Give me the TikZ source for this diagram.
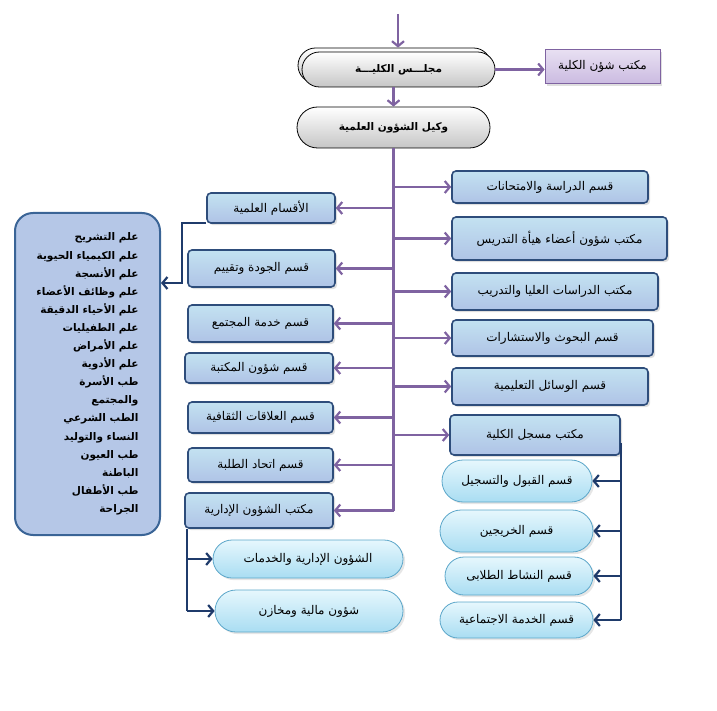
\documentclass[tikz,border=0pt]{standalone}
\usepackage{fontspec}
\newfontfamily\arabicfont[Script=Arabic]{DejaVu Sans}
\TeXXeTstate=1
\usetikzlibrary{arrows.meta,shapes.misc,shadows}
\definecolor{trunkpurple}{HTML}{7F63A1}
\definecolor{navyline}{HTML}{1F3B6B}
\definecolor{boxedge}{HTML}{2E4D7B}
\definecolor{boxtop}{HTML}{C3E2F1}
\definecolor{boxbot}{HTML}{AFC3E6}
\definecolor{pilledge}{HTML}{5BA6C9}
\definecolor{pilltop}{HTML}{E6F7FD}
\definecolor{pillbot}{HTML}{A9DDF2}
\definecolor{listedge}{HTML}{3A6496}
\definecolor{listfill}{HTML}{B5C7E7}
\definecolor{lilactop}{HTML}{E8E0F2}
\definecolor{lilacbot}{HTML}{CBBBE1}
\newcommand{\ar}[1]{{\arabicfont\beginR #1\endR}}
\tikzset{
  greypill/.style={rounded rectangle,draw,thick,top color=white,bottom color=gray!45,
    inner sep=0pt,font=\fontsize{10.5}{12}\selectfont\bfseries},
  lilacbox/.style={rectangle,draw=trunkpurple,thick,top color=lilactop,bottom color=lilacbot,
    inner sep=0pt,font=\fontsize{12}{14}\selectfont,drop shadow={opacity=0.25}},
  dept/.style={rectangle,rounded corners=4pt,draw=boxedge,line width=1.6pt,top color=boxtop,
    bottom color=boxbot,inner sep=0pt,font=\fontsize{12}{14}\selectfont,drop shadow={opacity=0.25}},
  unit/.style={rounded rectangle,draw=pilledge,thick,top color=pilltop,bottom color=pillbot,
    inner sep=0pt,font=\fontsize{12}{14}\selectfont,drop shadow={opacity=0.2}},
  listbox/.style={rectangle,rounded corners=18pt,draw=listedge,line width=2pt,fill=listfill,
    inner sep=0pt,align=right,font=\fontsize{10.5}{18.1}\selectfont\bfseries},
  plink/.style={draw=trunkpurple,line width=2.2pt},
  parrow/.style={plink,-{Straight Barb[length=5pt,width=12pt]}},
  narrow/.style={draw=navyline,line width=2.2pt,-{Straight Barb[length=5pt,width=12pt]}}
}
\begin{document}
\begin{tikzpicture}[x=1pt,y=-1pt]
  \useasboundingbox (0,0) rectangle (717,711);

  % — Council and vice dean
  \node [greypill,minimum width=193pt,minimum height=35pt] (councilback) at (394.5,65.5) {};
  \node [greypill,minimum width=193pt,minimum height=35pt] (council) at (398.5,69.5) {\ar{مجلـــس الكليـــة}};
  \node [lilacbox,minimum width=115pt,minimum height=34pt] (shuoon) at (602.5,66.5) {\ar{مكتب شؤن الكلية}};
  \node [greypill,minimum width=193pt,minimum height=41pt] (vakil) at (393.5,127.5) {\ar{وكيل الشؤون العلمية}};
  \coordinate (entry) at (398,14);

  % — Right-hand departments
  \node [dept,minimum width=196pt,minimum height=32pt] (exams)     at (550,187)   {\ar{قسم الدراسة والامتحانات}};
  \node [dept,minimum width=215pt,minimum height=43pt] (staff)     at (559.5,238.5) {\ar{مكتب شؤون أعضاء هيأة التدريس}};
  \node [dept,minimum width=206pt,minimum height=37pt] (postgrad)  at (555,291.5) {\ar{مكتب الدراسات العليا والتدريب}};
  \node [dept,minimum width=201pt,minimum height=36pt] (research)  at (552.5,338) {\ar{قسم البحوث والاستشارات}};
  \node [dept,minimum width=196pt,minimum height=37pt] (media)     at (550,386.5) {\ar{قسم الوسائل التعليمية}};
  \node [dept,minimum width=170pt,minimum height=40pt] (registrar) at (535,435)   {\ar{مكتب مسجل الكلية}};

  % — Left-hand departments
  \node [dept,minimum width=128pt,minimum height=30pt] (sci)     at (271,208)   {\ar{الأقسام العلمية}};
  \node [dept,minimum width=147pt,minimum height=37pt] (quality) at (261.5,268.5) {\ar{قسم الجودة وتقييم}};
  \node [dept,minimum width=145pt,minimum height=37pt] (service) at (260.5,323.5) {\ar{قسم خدمة المجتمع}};
  \node [dept,minimum width=148pt,minimum height=30pt] (library) at (259,368)   {\ar{قسم شؤون المكتبة}};
  \node [dept,minimum width=145pt,minimum height=31pt] (culture) at (260.5,417.5) {\ar{قسم العلاقات الثقافية}};
  \node [dept,minimum width=145pt,minimum height=34pt] (union)   at (260.5,465) {\ar{قسم اتحاد الطلبة}};
  \node [dept,minimum width=148pt,minimum height=35pt] (admin)   at (259,510.5) {\ar{مكتب الشؤون الإدارية}};

  % — Registrar units
  \node [unit,minimum width=150pt,minimum height=42pt] (admit)  at (517,481)   {\ar{قسم القبول والتسجيل}};
  \node [unit,minimum width=153pt,minimum height=42pt] (alumni) at (516.5,531) {\ar{قسم الخريجين}};
  \node [unit,minimum width=148pt,minimum height=38pt] (activ)  at (519,576)   {\ar{قسم النشاط الطلابى}};
  \node [unit,minimum width=153pt,minimum height=36pt] (social) at (516.5,620) {\ar{قسم الخدمة الاجتماعية}};

  % — Administration units
  \node [unit,minimum width=190pt,minimum height=38pt] (general) at (308,559) {\ar{الشؤون الإدارية والخدمات}};
  \node [unit,minimum width=188pt,minimum height=42pt] (stores)  at (309,611) {\ar{شؤون مالية ومخازن}};

  % — Scientific departments list
  \node [listbox,minimum width=145pt,minimum height=322pt] (list) at (87.5,374) {%
    \ar{علم التشريح}\\ \ar{علم الكيمياء الحيوية}\\ \ar{علم الأنسجة}\\
    \ar{علم وظائف الأعضاء}\\ \ar{علم الأحياء الدقيقة}\\ \ar{علم الطفيليات}\\
    \ar{علم الأمراض}\\ \ar{علم الأدوية}\\ \ar{طب الأسرة}\\ \ar{والمجتمع}\\
    \ar{الطب الشرعي}\\ \ar{النساء والتوليد}\\ \ar{طب العيون}\\ \ar{الباطنة}\\
    \ar{طب الأطفال}\\ \ar{الجراحة}};

  % — Purple links
  \draw [parrow] (entry) -- (councilback.north -| entry);
  \draw [parrow] (council.east) -- (council.east -| shuoon.west);
  \draw [parrow] (council.south -| vakil.north) -- (vakil.north);
  \draw [plink] (vakil.south) -- (vakil.south |- admin.east);
  \foreach \d in {exams,staff,postgrad,research,media,registrar}
    \draw [parrow] (vakil.south |- \d.west) -- (\d.west);
  \foreach \d in {sci,quality,service,library,culture,union,admin}
    \draw [parrow] (vakil.south |- \d.east) -- (\d.east);

  % — Navy links
  \draw [narrow] ([yshift=1pt]sci.south west) -- ++(-24,0) |- ([yshift=91pt]list.east);
  \draw [draw=navyline,line width=2.2pt] ([yshift=-8pt]registrar.east) -- (registrar.east |- social.east);
  \foreach \u in {admit,alumni,activ,social}
    \draw [narrow] (registrar.east |- \u.east) -- (\u.east);
  \draw [draw=navyline,line width=2.2pt] ([xshift=3pt]admin.south west) -- ([xshift=3pt]admin.south west |- stores.west);
  \foreach \u in {general,stores}
    \draw [narrow] ([xshift=3pt]admin.south west |- \u.west) -- (\u.west);
\end{tikzpicture}
\end{document}
